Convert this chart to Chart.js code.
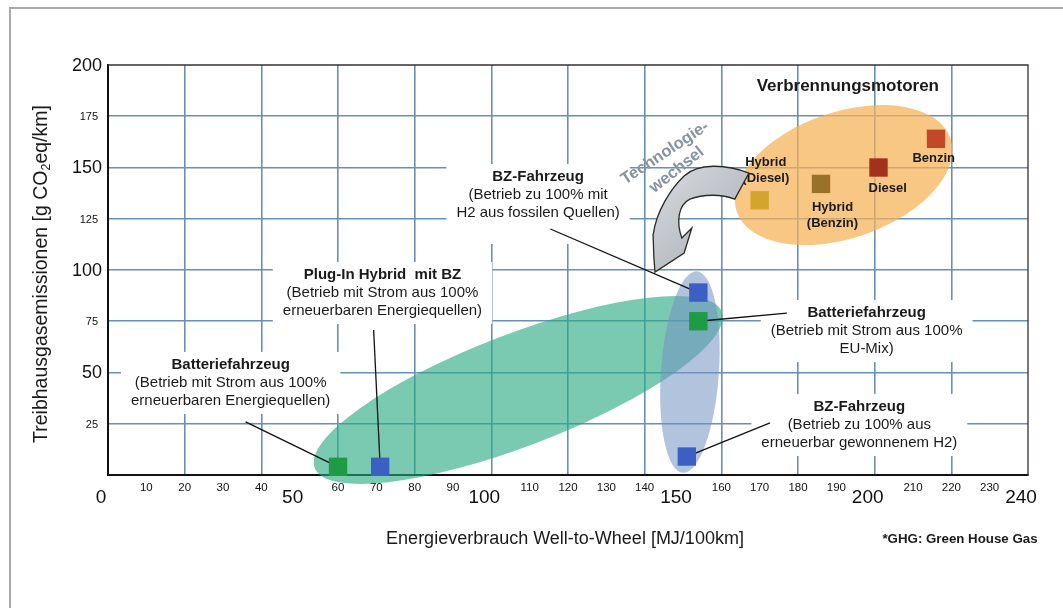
<!DOCTYPE html>
<html>
<head>
<meta charset="utf-8">
<script src="https://cdn.jsdelivr.net/npm/chart.js@4.4.1/dist/chart.umd.min.js"></script>
<style>
  html, body { margin: 0; padding: 0; background: #fff; }
  #wrap { width: 1063px; height: 608px; position: relative; }
</style>
</head>
<body>
<div id="wrap"><canvas id="c" width="1063" height="608"></canvas></div>
<script>
// Well-to-wheel energy use [MJ/100km] and GHG emissions [g CO2eq/km] per vehicle type
const VEHICLES = [
  'Batteriefahrzeug (erneuerbar)',
  'Plug-In Hybrid mit BZ',
  'BZ-Fahrzeug (H2 fossil)',
  'Batteriefahrzeug (EU-Mix)',
  'BZ-Fahrzeug (H2 erneuerbar)',
  'Hybrid (Diesel)',
  'Hybrid (Benzin)',
  'Diesel',
  'Benzin'
];
const ENERGY    = [60, 71, 154, 154, 151, 170, 186, 201, 216];
const EMISSIONS = [4, 4, 89, 75, 9, 134, 142, 150, 164];

// Axis tick labels (large and small)
const X_MAJOR_TICKS = [0, 50, 100, 150, 200, 240];
const X_MINOR_TICKS = [10, 20, 30, 40, 60, 70, 80, 90, 110, 120, 130, 140, 160, 170, 180, 190, 210, 220, 230];
const Y_MAJOR_TICKS = [200, 150, 100, 50];
const Y_MINOR_TICKS = [175, 125, 75, 25];

// ---- styling ----
const FONT = '"Liberation Sans", Arial, Helvetica, sans-serif';
const GRID_COLOR = '#6890b5';
const SQUARE_COLORS = ['#1f9a45', '#3b5fc2', '#3b5fc2', '#1f9a45', '#3b5fc2', '#d2a430', '#9a7129', '#a3311e', '#c2482a'];

// Group ellipses: center in axis units, radii in pixels, rotation in degrees
const GROUPS = [
  { center: [107, 41.5], rx: 218, ry: 56, rot: -21, fill: 'rgba(40,170,130,0.62)' },
  { center: [151.8, 50.2], rx: 29, ry: 101, rot: 4, fill: 'rgba(115,145,195,0.55)' },
  { center: [191.9, 146.3], rx: 113, ry: 63, rot: -19, fill: 'rgba(246,178,85,0.72)' }
];

// Callouts: text position (axis units) of the first line, leader start, and target point index
const CALLOUTS = [
  { at: [112.2, 145.4], lines: ['BZ-Fahrzeug', '(Betrieb zu 100% mit', 'H2 aus fossilen Quellen)'], from: [115.4, 120], to: 2, extra: 18 },
  { at: [71.6, 97.6], lines: ['Plug-In Hybrid  mit BZ', '(Betrieb mit Strom aus 100%', 'erneuerbaren Energiequellen)'], from: [69.3, 70.7], to: 1, extra: 0 },
  { at: [32, 53.7], lines: ['Batteriefahrzeug', '(Betrieb mit Strom aus 100%', 'erneuerbaren Energiequellen)'], from: [35.9, 25.9], to: 0, extra: 0 },
  { at: [197.9, 79], lines: ['Batteriefahrzeug', '(Betrieb mit Strom aus 100%', 'EU-Mix)'], from: [177.1, 79], to: 3, extra: 0 },
  { at: [196, 33.2], lines: ['BZ-Fahrzeug', '(Betrieb zu 100% aus', 'erneuerbar gewonnenem H2)'], from: [172.7, 25.4], to: 4, extra: 0 }
];

// Labels inside the combustion-engine group
const ICE_LABELS = [
  { at: [171.6, 152.7], lines: ['Hybrid', '(Diesel)'] },
  { at: [189, 130.7], lines: ['Hybrid', '(Benzin)'] },
  { at: [203.4, 140], lines: ['Diesel'] },
  { at: [215.4, 154.6], lines: ['Benzin'] }
];

// Curved "technology change" arrow outline in axis units
const ARROW = {
  start: [167.2, 147.3],
  segs: [
    ['C', [161.2, 151.7], [153.9, 152.2], [150.3, 145.9]],
    ['C', [146.7, 139.6], [143.0, 128.3], [142.2, 117.1]],
    ['L', [142.4, 105.9]],
    ['L', [142.7, 99.0]],
    ['L', [150.3, 108.3]],
    ['L', [152.3, 120.5]],
    ['L', [149.7, 115.6]],
    ['C', [148.2, 123.4], [148.7, 131.7], [151.8, 134.6]],
    ['C', [155.2, 137.1], [160.2, 137.1], [163.5, 134.6]]
  ]
};

function toPx(chart, p) {
  return [chart.scales.x.getPixelForValue(p[0]), chart.scales.y.getPixelForValue(p[1])];
}

const decor = {
  id: 'decor',
  beforeDraw(chart) {
    const ctx = chart.ctx;
    ctx.save();
    ctx.fillStyle = '#fff';
    ctx.fillRect(0, 0, chart.width, chart.height);
    // outer frame (top and left)
    ctx.strokeStyle = '#a9a9a9';
    ctx.lineWidth = 2;
    ctx.beginPath();
    ctx.moveTo(10, chart.height);
    ctx.lineTo(10, 8);
    ctx.lineTo(chart.width, 8);
    ctx.stroke();
    ctx.restore();
  },
  beforeDatasetsDraw(chart) {
    const ctx = chart.ctx;
    const a = chart.chartArea;
    ctx.save();
    // top and right frame of the plot
    ctx.strokeStyle = '#3a3030';
    ctx.lineWidth = 1.3;
    ctx.beginPath();
    ctx.moveTo(a.left, a.top);
    ctx.lineTo(a.right, a.top);
    ctx.lineTo(a.right, a.bottom);
    ctx.stroke();

    // white backgrounds behind callout text
    CALLOUTS.forEach(c => {
      const [cx, cy] = toPx(chart, c.at);
      let w = 0;
      c.lines.forEach((t, i) => {
        ctx.font = (i === 0 ? 'bold ' : '') + '15px ' + FONT;
        w = Math.max(w, ctx.measureText(t).width);
      });
      ctx.fillStyle = '#fff';
      ctx.fillRect(cx - w / 2 - 10, cy - 13, w + 20, 18 * (c.lines.length - 1) + 26 + c.extra);
    });

    // group ellipses
    GROUPS.forEach(g => {
      const [cx, cy] = toPx(chart, g.center);
      ctx.fillStyle = g.fill;
      ctx.beginPath();
      ctx.ellipse(cx, cy, g.rx, g.ry, g.rot * Math.PI / 180, 0, Math.PI * 2);
      ctx.fill();
    });

    // leader lines
    ctx.strokeStyle = '#111';
    ctx.lineWidth = 1.3;
    CALLOUTS.forEach(c => {
      const [x0, y0] = toPx(chart, c.from);
      const [x1, y1] = toPx(chart, [ENERGY[c.to], EMISSIONS[c.to]]);
      ctx.beginPath();
      ctx.moveTo(x0, y0);
      ctx.lineTo(x1, y1);
      ctx.stroke();
    });
    ctx.restore();
  },
  afterDatasetsDraw(chart) {
    const ctx = chart.ctx;
    ctx.save();
    ctx.textAlign = 'center';
    ctx.textBaseline = 'middle';
    ctx.fillStyle = '#1a1a1a';

    // callout text
    CALLOUTS.forEach(c => {
      const [cx, cy] = toPx(chart, c.at);
      c.lines.forEach((t, i) => {
        ctx.font = (i === 0 ? 'bold ' : '') + '15px ' + FONT;
        ctx.fillText(t, cx, cy + i * 18);
      });
    });

    // group title
    const [vx, vy] = toPx(chart, [193, 189.8]);
    ctx.font = 'bold 17px ' + FONT;
    ctx.fillText('Verbrennungsmotoren', vx, vy);

    // labels of the combustion group
    ctx.font = 'bold 13px ' + FONT;
    ICE_LABELS.forEach(l => {
      const [cx, cy] = toPx(chart, l.at);
      l.lines.forEach((t, i) => ctx.fillText(t, cx, cy + i * 16));
    });

    // curved arrow
    const s = toPx(chart, ARROW.start);
    const grad = ctx.createLinearGradient(640, 165, 750, 275);
    grad.addColorStop(0, '#dcdfe3');
    grad.addColorStop(1, '#a3a9b1');
    ctx.beginPath();
    ctx.moveTo(s[0], s[1]);
    ARROW.segs.forEach(sg => {
      if (sg[0] === 'L') {
        const p = toPx(chart, sg[1]);
        ctx.lineTo(p[0], p[1]);
      } else {
        const p1 = toPx(chart, sg[1]), p2 = toPx(chart, sg[2]), p3 = toPx(chart, sg[3]);
        ctx.bezierCurveTo(p1[0], p1[1], p2[0], p2[1], p3[0], p3[1]);
      }
    });
    ctx.closePath();
    ctx.fillStyle = grad;
    ctx.fill();
    ctx.strokeStyle = '#2a2a2a';
    ctx.lineWidth = 1.3;
    ctx.stroke();

    // rotated arrow caption
    ctx.fillStyle = '#8793a0';
    ctx.font = 'bold 16.5px ' + FONT;
    [['Technologie-', [145.3, 157.1], -33.5], ['wechsel', [148.4, 148.8], -38]].forEach(([t, p, r]) => {
      const [x, y] = toPx(chart, p);
      ctx.save();
      ctx.translate(x, y);
      ctx.rotate(r * Math.PI / 180);
      ctx.fillText(t, 0, 0);
      ctx.restore();
    });
    ctx.restore();
  },
  afterDraw(chart) {
    const ctx = chart.ctx;
    const xs = chart.scales.x, ys = chart.scales.y;
    const a = chart.chartArea;
    ctx.save();
    ctx.fillStyle = '#111';

    // x tick labels
    ctx.textAlign = 'center';
    ctx.textBaseline = 'middle';
    ctx.font = '11.5px ' + FONT;
    X_MINOR_TICKS.forEach(v => ctx.fillText(String(v), xs.getPixelForValue(v), a.bottom + 13));
    ctx.font = '19px ' + FONT;
    X_MAJOR_TICKS.forEach(v => ctx.fillText(String(v), xs.getPixelForValue(v) - 7, a.bottom + 23));

    // y tick labels
    ctx.textAlign = 'right';
    ctx.font = '18px ' + FONT;
    Y_MAJOR_TICKS.forEach(v => ctx.fillText(String(v), a.left - 6, ys.getPixelForValue(v) + 1));
    ctx.font = '11px ' + FONT;
    Y_MINOR_TICKS.forEach(v => ctx.fillText(String(v), a.left - 10, ys.getPixelForValue(v) + 1));

    // x axis title
    ctx.textAlign = 'center';
    ctx.font = '18px ' + FONT;
    ctx.fillStyle = '#1a1a1a';
    ctx.fillText('Energieverbrauch Well-to-Wheel [MJ/100km]', 565, 539);

    // footnote
    ctx.font = 'bold 13.3px ' + FONT;
    ctx.fillText('*GHG: Green House Gas', 960, 539);

    // y axis title with subscript
    ctx.translate(42, 274);
    ctx.rotate(-Math.PI / 2);
    const parts = [
      ['Treibhausgasemissionen [g CO', '19.5px', 0],
      ['2', '12.5px', 5],
      ['eq/km]', '19.5px', 0]
    ];
    let total = 0;
    parts.forEach(p => { ctx.font = p[1] + ' ' + FONT; total += ctx.measureText(p[0]).width; });
    let x = -total / 2;
    ctx.textAlign = 'left';
    parts.forEach(p => {
      ctx.font = p[1] + ' ' + FONT;
      ctx.fillText(p[0], x, p[2]);
      x += ctx.measureText(p[0]).width;
    });
    ctx.restore();
  }
};

new Chart(document.getElementById('c'), {
  type: 'scatter',
  data: {
    datasets: [{
      label: 'Fahrzeuge',
      data: ENERGY.map((x, i) => ({ x: x, y: EMISSIONS[i], name: VEHICLES[i] })),
      pointStyle: 'rect',
      pointRadius: 13,
      pointBackgroundColor: SQUARE_COLORS,
      pointBorderColor: SQUARE_COLORS,
      pointBorderWidth: 0,
      clip: false
    }]
  },
  options: {
    responsive: false,
    animation: false,
    devicePixelRatio: 1,
    events: [],
    layout: { padding: { left: 108, right: 35, top: 65, bottom: 133 } },
    plugins: { legend: { display: false }, tooltip: { enabled: false } },
    scales: {
      x: {
        type: 'linear', min: 0, max: 240,
        ticks: { stepSize: 20, display: false },
        grid: {
          drawTicks: false,
          lineWidth: 1.6,
          color: c => (c.tick && (c.tick.value === 0 || c.tick.value === 240)) ? 'rgba(0,0,0,0)' : GRID_COLOR
        },
        border: { display: true, color: '#111', width: 2 },
        afterFit: s => { s.height = 0; }
      },
      y: {
        type: 'linear', min: 0, max: 200,
        ticks: { stepSize: 25, display: false },
        grid: {
          drawTicks: false,
          lineWidth: 1.6,
          color: c => (c.tick && (c.tick.value === 0 || c.tick.value === 200)) ? 'rgba(0,0,0,0)' : GRID_COLOR
        },
        border: { display: true, color: '#111', width: 2 },
        afterFit: s => { s.width = 0; }
      }
    }
  },
  plugins: [decor]
});
</script>
</body>
</html>
